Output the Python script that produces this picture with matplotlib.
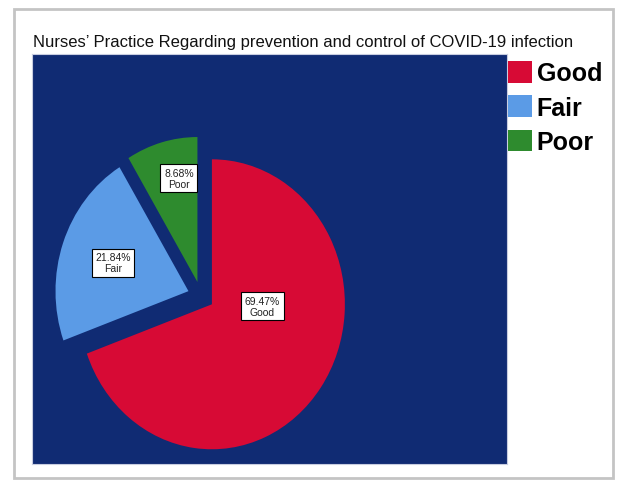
import numpy as np
import matplotlib.pyplot as plt
from matplotlib.patches import Rectangle, Patch

# Werte aus dem Diagramm
categories = ["Good", "Fair", "Poor"]
percents = [69.47, 21.84, 8.68]
colors = ["#D70A35", "#5B9BE6", "#2E8B2E"]
title = "Nurses\u2019 Practice Regarding prevention and control of COVID-19 infection"

plt.rcParams['font.family'] = ['Liberation Sans', 'DejaVu Sans']

fig = plt.figure(figsize=(6.18, 4.81), dpi=100)

# heller Rahmen um das ganze Bild
fig.patches.append(Rectangle((14 / 618, 2 / 481), 599 / 618, 469 / 481, transform=fig.transFigure,
                             fill=False, edgecolor="#c4c4c4", linewidth=2, zorder=0))

ax = fig.add_axes([32 / 618, 16 / 481, 475 / 618, 410 / 481])
wedges, _ = ax.pie(percents, colors=colors, startangle=90, counterclock=False,
                   explode=[0.1] * len(percents), wedgeprops=dict(linewidth=0))
ax.set_aspect('auto')
ax.set_xlim(-1.271, 2.301)
ax.set_ylim(-1.159, 1.669)
ax.set_frame_on(True)
ax.set_facecolor("#102B73")
for s in ax.spines.values():
    s.set_color("#c8cde0")
    s.set_linewidth(0.8)

# Beschriftungen der Segmente (Winkel in Grad, Abstand vom Segmentmittelpunkt)
label_place = [(-2, 0.38), (161, 0.60), (101, 0.73)]
for w, p, c, (ang, dist) in zip(wedges, percents, categories, label_place):
    cx, cy = w.center
    x = cx + dist * np.cos(np.radians(ang))
    y = cy + dist * np.sin(np.radians(ang))
    ax.text(x, y, f"{p:.2f}%\n{c}", ha="center", va="center", fontsize=7.5, linespacing=1.1,
            color="#222222",
            bbox=dict(boxstyle="square,pad=0.35", facecolor="white", edgecolor="black", linewidth=0.8))

fig.text(33 / 618, 1 - 42 / 481, title, fontsize=12, va="center", ha="left", color="#111111")

handles = [Patch(facecolor=c, edgecolor="none") for c in colors]
fig.legend(handles, categories, loc="upper left", bbox_to_anchor=(508 / 618, 1 - 62 / 481),
           frameon=False, prop=dict(size=18, weight="bold"), handlelength=0.95, handleheight=0.95,
           handletextpad=0.2, labelspacing=0.4, borderpad=0, borderaxespad=0)

plt.savefig("out.png", dpi=100)
